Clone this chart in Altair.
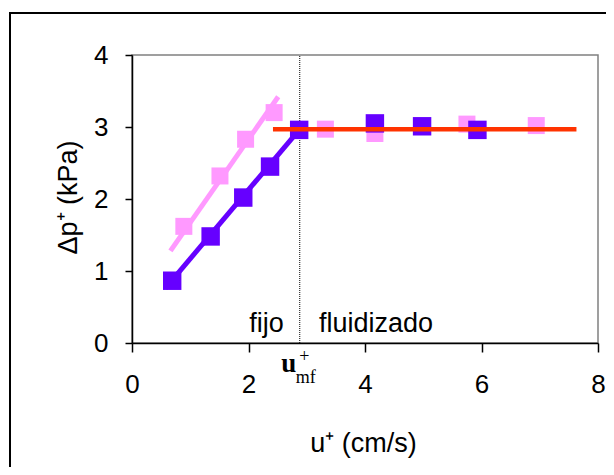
import altair as alt
import pandas as pd

# ---- data ----
dark_x = [0.69, 1.35, 1.91, 2.37, 2.87, 4.17, 4.98, 5.93]
dark_y = [0.865, 1.48, 2.02, 2.45, 2.96, 3.05, 3.01, 2.96]
pink_x = [0.89, 1.51, 1.95, 2.44, 3.32, 4.17, 5.75, 6.94]
pink_y = [1.62, 2.32, 2.83, 3.20, 2.97, 2.91, 3.04, 3.02]

dark_fit_x = [0.57, 2.87]
dark_fit_y = [0.76, 2.96]
pink_fit_x = [0.66, 2.51]
pink_fit_y = [1.28, 3.42]
flat_fit_x = [2.42, 7.63]
flat_fit_y = [2.97, 2.97]

u_mf = 2.88
x_ticks = [0, 2, 4, 6, 8]
y_ticks = [0, 1, 2, 3, 4]

labels_text = ["fijo", "fluidizado"]
labels_x = [2.31, 3.21]
labels_y = [0.15, 0.15]

FONT = "Liberation Sans"
SERIF = "Liberation Serif"
DARK = "#6600FF"
PINK = "#FF99FF"
RED = "#FF3300"

dark = pd.DataFrame({"x": dark_x, "y": dark_y})
pink = pd.DataFrame({"x": pink_x, "y": pink_y})
dark_fit = pd.DataFrame({"x": dark_fit_x, "y": dark_fit_y})
pink_fit = pd.DataFrame({"x": pink_fit_x, "y": pink_fit_y})
flat_fit = pd.DataFrame({"x": flat_fit_x, "y": flat_fit_y})
vline = pd.DataFrame({"x": [u_mf], "y": [0], "y2": [4]})
labels = pd.DataFrame({"t": labels_text, "x": labels_x, "y": labels_y})

xs = alt.Scale(domain=[0, 8], nice=False, zero=False)
ys = alt.Scale(domain=[0, 4], nice=False, zero=False)

x_axis = alt.Axis(
    values=x_ticks, format="d", grid=False, tickSize=9, tickWidth=1.5, tickColor="black",
    domainColor="black", domainWidth=1.5, labelFontSize=26, labelFont=FONT,
    labelColor="black", labelPadding=19, labelFlush=False,
    title="u⁺ (cm/s)", titleFont=FONT, titleFontSize=27, titleFontWeight="normal",
    titleColor="black", titleX=231, titleY=108, titleAlign="center",
    titleBaseline="alphabetic",
)
y_axis = alt.Axis(
    values=y_ticks, format="d", grid=False, tickSize=7, tickWidth=1.5, tickColor="black",
    domainColor="black", domainWidth=1.5, labelFontSize=26, labelFont=FONT,
    labelColor="black", labelPadding=17, labelFlush=False,
    title="Δp⁺ (kPa)", titleFont=FONT, titleFontSize=27, titleFontWeight="normal",
    titleColor="black", titleX=-64, titleY=142, titleAngle=270, titleAlign="center",
    titleBaseline="middle",
)

base_x = alt.X("x:Q", scale=xs, axis=x_axis)
base_y = alt.Y("y:Q", scale=ys, axis=y_axis)
px = alt.X("x:Q", scale=xs)
py = alt.Y("y:Q", scale=ys)

border = alt.Chart(pd.DataFrame({"k": [0]})).mark_rect(
    fill=None, stroke="black", strokeWidth=2, clip=False
).encode(x=alt.value(-122), x2=alt.value(520), y=alt.value(-42), y2=alt.value(460))

rule = alt.Chart(vline).mark_rule(color="black", strokeWidth=1, strokeDash=[1, 1]).encode(
    x=px, y=py, y2="y2:Q"
)

pink_line = alt.Chart(pink_fit).mark_line(color=PINK, strokeWidth=5).encode(x=base_x, y=base_y)
pink_pts = alt.Chart(pink).mark_square(color=PINK, size=289, opacity=1).encode(x=px, y=py)
dark_line = alt.Chart(dark_fit).mark_line(color=DARK, strokeWidth=5).encode(x=px, y=py)
dark_pts = alt.Chart(dark).mark_square(color=DARK, size=340, opacity=1).encode(x=px, y=py)
red_line = alt.Chart(flat_fit).mark_line(color=RED, strokeWidth=4.5).encode(x=px, y=py)

fijo = alt.Chart(labels.iloc[[0]]).mark_text(
    font=FONT, fontSize=27, color="black", baseline="alphabetic", align="center"
).encode(x=px, y=py, text="t:N")
flu = alt.Chart(labels.iloc[[1]]).mark_text(
    font=FONT, fontSize=27, color="black", baseline="alphabetic", align="left"
).encode(x=px, y=py, text="t:N")

umf_u = pd.DataFrame({"t": ["u"], "x": [2.69], "y": [-0.40]})
umf_p = pd.DataFrame({"t": ["+"], "x": [2.96], "y": [-0.20]})
umf_s = pd.DataFrame({"t": ["mf"], "x": [2.81], "y": [-0.555]})
t_u = alt.Chart(umf_u).mark_text(font=SERIF, fontSize=27, fontWeight="bold", color="black",
                                 baseline="alphabetic", align="center").encode(x=px, y=py, text="t:N")
t_p = alt.Chart(umf_p).mark_text(font=SERIF, fontSize=18, color="black",
                                 baseline="middle", align="center").encode(x=px, y=py, text="t:N")
t_s = alt.Chart(umf_s).mark_text(font=SERIF, fontSize=18, color="black",
                                 baseline="alphabetic", align="left").encode(x=px, y=py, text="t:N")

chart = alt.layer(
    border, rule, pink_line, pink_pts, dark_line, dark_pts, red_line, fijo, flu, t_u, t_p, t_s
).properties(
    width=466, height=288,
    padding={"left": 124, "top": 47, "right": 8, "bottom": 124},
    autosize="none",
    background="white",
).configure_view(
    stroke="#808080", strokeWidth=1.5
)

chart.save("out.html", embed_options={"renderer": "svg", "actions": False})
